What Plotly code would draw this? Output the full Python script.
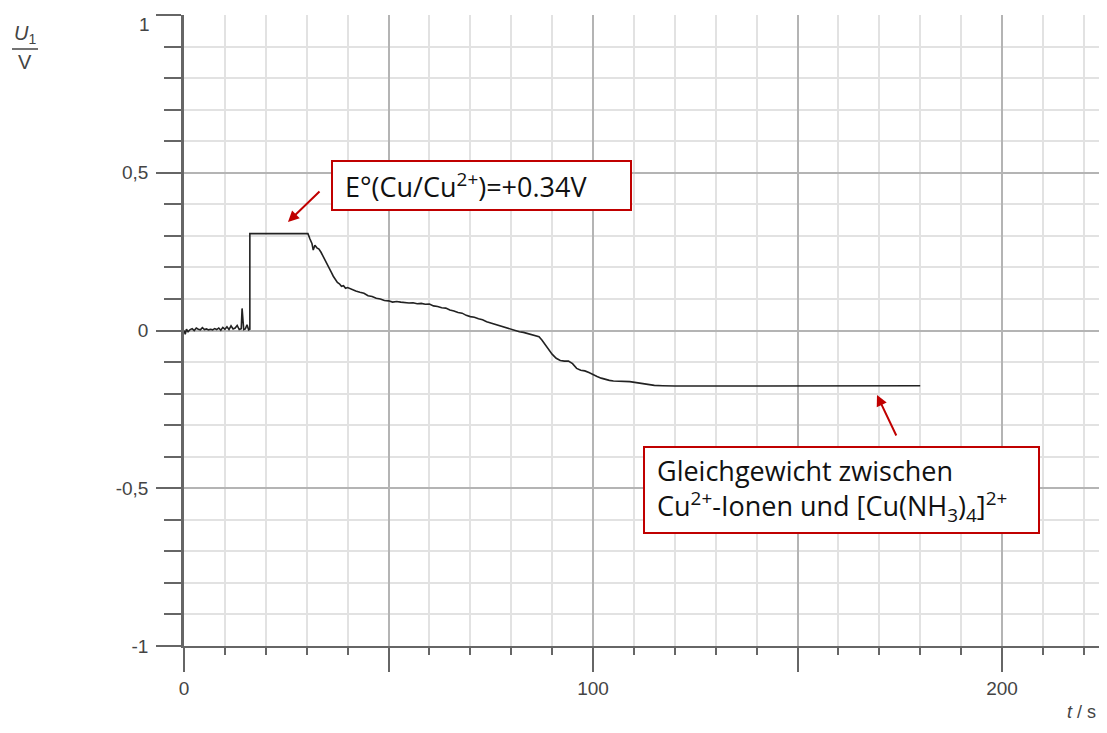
import plotly.graph_objects as go

# ---- data ----
t_s = [0, 0.3, 0.6, 1.0, 1.5, 2.0, 2.5, 3.0, 3.5, 4.0, 4.5, 5.0, 5.5, 6.0, 6.5, 7.0, 7.5, 8.0,
       8.5, 9.0, 9.5, 10.0, 10.5, 11.0, 11.5, 12.0, 12.5, 13.0, 13.5, 14.0, 14.2, 14.4, 14.6,
       15.0, 15.4, 15.8, 16.1,
       16.1, 30.3,
       30.8, 31.3, 31.6, 32.0, 32.5, 33.0, 33.5, 34.0, 34.5, 35.0, 35.5, 36.0, 36.5, 37.0, 37.5,
       38.0, 38.5, 39.0, 39.5, 40.0, 41, 42, 43, 44, 45, 46, 47, 48, 49, 50, 51, 52, 53, 54, 55,
       56, 57, 58, 59, 60, 61, 62, 63, 64, 65, 66, 67, 68, 69, 70, 71, 72, 73, 74, 75, 76, 77,
       78, 79, 80, 81, 82, 83, 84, 85, 86, 86.8, 87.5, 88.3, 89, 90, 91, 92, 93, 94, 95, 96, 97,
       98, 99, 100, 101, 102, 103, 104, 105, 107, 109, 111, 113, 115, 117, 120, 130, 140, 150,
       160, 170, 180]
U1_V = [0.0, -0.012, 0.004, -0.004, 0.003, 0.006, 0.0, 0.008, 0.004, 0.002, 0.009, 0.003, 0.005,
        0.002, 0.004, 0.002, 0.006, 0.003, 0.008, 0.001, 0.01, 0.004, 0.012, 0.003, 0.015, 0.005,
        0.008, 0.016, 0.003, 0.006, 0.07, 0.01, 0.003, 0.005, 0.018, 0.002, 0.004,
        0.307, 0.307,
        0.29, 0.275, 0.255, 0.27, 0.262, 0.258, 0.248, 0.236, 0.225, 0.21, 0.2, 0.185, 0.172,
        0.162, 0.152, 0.148, 0.14, 0.142, 0.134, 0.136, 0.13, 0.125, 0.121, 0.118, 0.11, 0.108,
        0.102, 0.1, 0.095, 0.094, 0.09, 0.092, 0.09, 0.088, 0.087, 0.088, 0.085, 0.086, 0.083,
        0.084, 0.078, 0.076, 0.072, 0.071, 0.065, 0.062, 0.057, 0.055, 0.048, 0.044, 0.042,
        0.037, 0.034, 0.028, 0.024, 0.02, 0.016, 0.011, 0.008, 0.004, 0.0, -0.004, -0.006,
        -0.01, -0.014, -0.017, -0.02, -0.03, -0.045, -0.06, -0.075, -0.088, -0.095, -0.097,
        -0.097, -0.105, -0.12, -0.126, -0.128, -0.133, -0.14, -0.146, -0.151, -0.155, -0.158,
        -0.16, -0.16, -0.162, -0.166, -0.17, -0.174, -0.175, -0.176, -0.176, -0.176, -0.176,
        -0.176, -0.175, -0.175]

x_tickvals = [0, 50, 100, 150, 200]
x_ticktext = ["0", "", "100", "", "200"]
y_tickvals = [-1, -0.5, 0, 0.5, 1]
y_ticktext = ["-1", "-0,5", "0", "0,5", ""]
y_top_label = "1"

OFF = 8  # default page body margin
W, H = 1107 - 2 * OFF, 733 - 2 * OFF
L, R, T = 184 - OFF, 0, 15 - OFF
B = H - (646 - OFF)
PW, PH = W - L - R, H - T - B
X_MAX = PW / 409.0 * 100  # keep 100 s = 409 px as in the reference


def px(x):  # page pixel -> paper
    return (x - OFF - L) / PW


def py(y):
    return (H - B - (y - OFF)) / PH


fig = go.Figure()
fig.add_trace(go.Scatter(x=t_s, y=U1_V, mode="lines",
                         line=dict(color="#222222", width=1.6), showlegend=False))

tickfont = dict(family="Liberation Sans, Arial, sans-serif", size=19, color="#444444")
fig.update_xaxes(range=[0, X_MAX], tickvals=x_tickvals, ticktext=x_ticktext,
                 ticks="outside", ticklen=24, tickwidth=2, tickcolor="#666666",
                 showline=True, linecolor="#666666", linewidth=2,
                 showgrid=True, gridcolor="#b4b4b4", gridwidth=1.5,
                 zeroline=False, tickfont=tickfont,
                 minor=dict(dtick=10, ticks="outside", ticklen=7, tickwidth=2,
                            tickcolor="#666666", showgrid=True, gridcolor="#e2e2e2",
                            gridwidth=1.5))
fig.update_yaxes(range=[-1, 1], tickvals=y_tickvals, ticktext=y_ticktext,
                 ticks="outside", ticklen=25, tickwidth=2, tickcolor="#666666",
                 showline=True, linecolor="#666666", linewidth=2.5,
                 showgrid=True, gridcolor="#b4b4b4", gridwidth=1.5,
                 zeroline=False, tickfont=tickfont, ticklabelstandoff=4,
                 minor=dict(dtick=0.1, ticks="outside", ticklen=17, tickwidth=2,
                            tickcolor="#666666", showgrid=True, gridcolor="#e2e2e2",
                            gridwidth=1.5))

boxfont = dict(family="Open Sans, Noto Sans, sans-serif", size=27, color="#111111")
lblfont = dict(family="Liberation Sans, Arial", size=20, color="#444444")
annotations = [
    # top y tick label (sits slightly below its tick in the reference)
    dict(x=px(152), y=py(24), xref="paper", yref="paper", showarrow=False,
         xanchor="right", yanchor="middle", text=y_top_label, font=tickfont),
    # y-axis title as fraction
    dict(x=px(25), y=py(35), xref="paper", yref="paper", showarrow=False,
         xanchor="center", yanchor="middle",
         text="<i>U</i><sub>1</sub>", font=lblfont),
    dict(x=px(25), y=py(62), xref="paper", yref="paper", showarrow=False,
         xanchor="center", yanchor="middle", text="V", font=lblfont),
    # x-axis title
    dict(x=px(1098), y=py(712), xref="paper", yref="paper", showarrow=False,
         xanchor="right", yanchor="middle",
         text="<i>t</i> / s", font=dict(family="Liberation Sans, Arial", size=18,
                                        color="#444444")),
    # box 1
    dict(x=px(481.5), y=py(185.5), xref="paper", yref="paper", showarrow=False,
         xanchor="center", yanchor="middle",
         text="&nbsp;E°(Cu/Cu<sup>2+</sup>)=+0.34V", font=boxfont, align="left",
         width=287, height=37, bgcolor="white", bordercolor="#c00000", borderwidth=2,
         borderpad=5),
    # box 2
    dict(x=px(841.5), y=py(490), xref="paper", yref="paper", showarrow=False,
         xanchor="center", yanchor="middle",
         text="&nbsp;Gleichgewicht zwischen<br>&nbsp;Cu<sup>2+</sup>-Ionen und [Cu(NH<sub>3</sub>)<sub>4</sub>]<sup>2+</sup>",
         font=boxfont, align="left",
         width=383, height=74, bgcolor="white", bordercolor="#c00000", borderwidth=2,
         borderpad=5),
    # arrows
    dict(x=px(288), y=py(222), xref="paper", yref="paper", text="", showarrow=True,
         ax=33, ay=-32, arrowhead=2, arrowsize=1.1, arrowwidth=2, arrowcolor="#c00000"),
    dict(x=px(877), y=py(395), xref="paper", yref="paper", text="", showarrow=True,
         ax=20, ay=42, arrowhead=2, arrowsize=1.1, arrowwidth=2, arrowcolor="#c00000"),
]

shapes = [
    dict(type="line", xref="paper", yref="paper", x0=px(12), x1=px(38), y0=py(49), y1=py(49),
         line=dict(color="#444444", width=1.5)),
]

fig.update_layout(width=W, height=H,
                  margin=dict(l=L, r=R, t=T, b=B, autoexpand=False),
                  plot_bgcolor="white", paper_bgcolor="white",
                  annotations=annotations, shapes=shapes, showlegend=False)

fig.write_html("out.html")
